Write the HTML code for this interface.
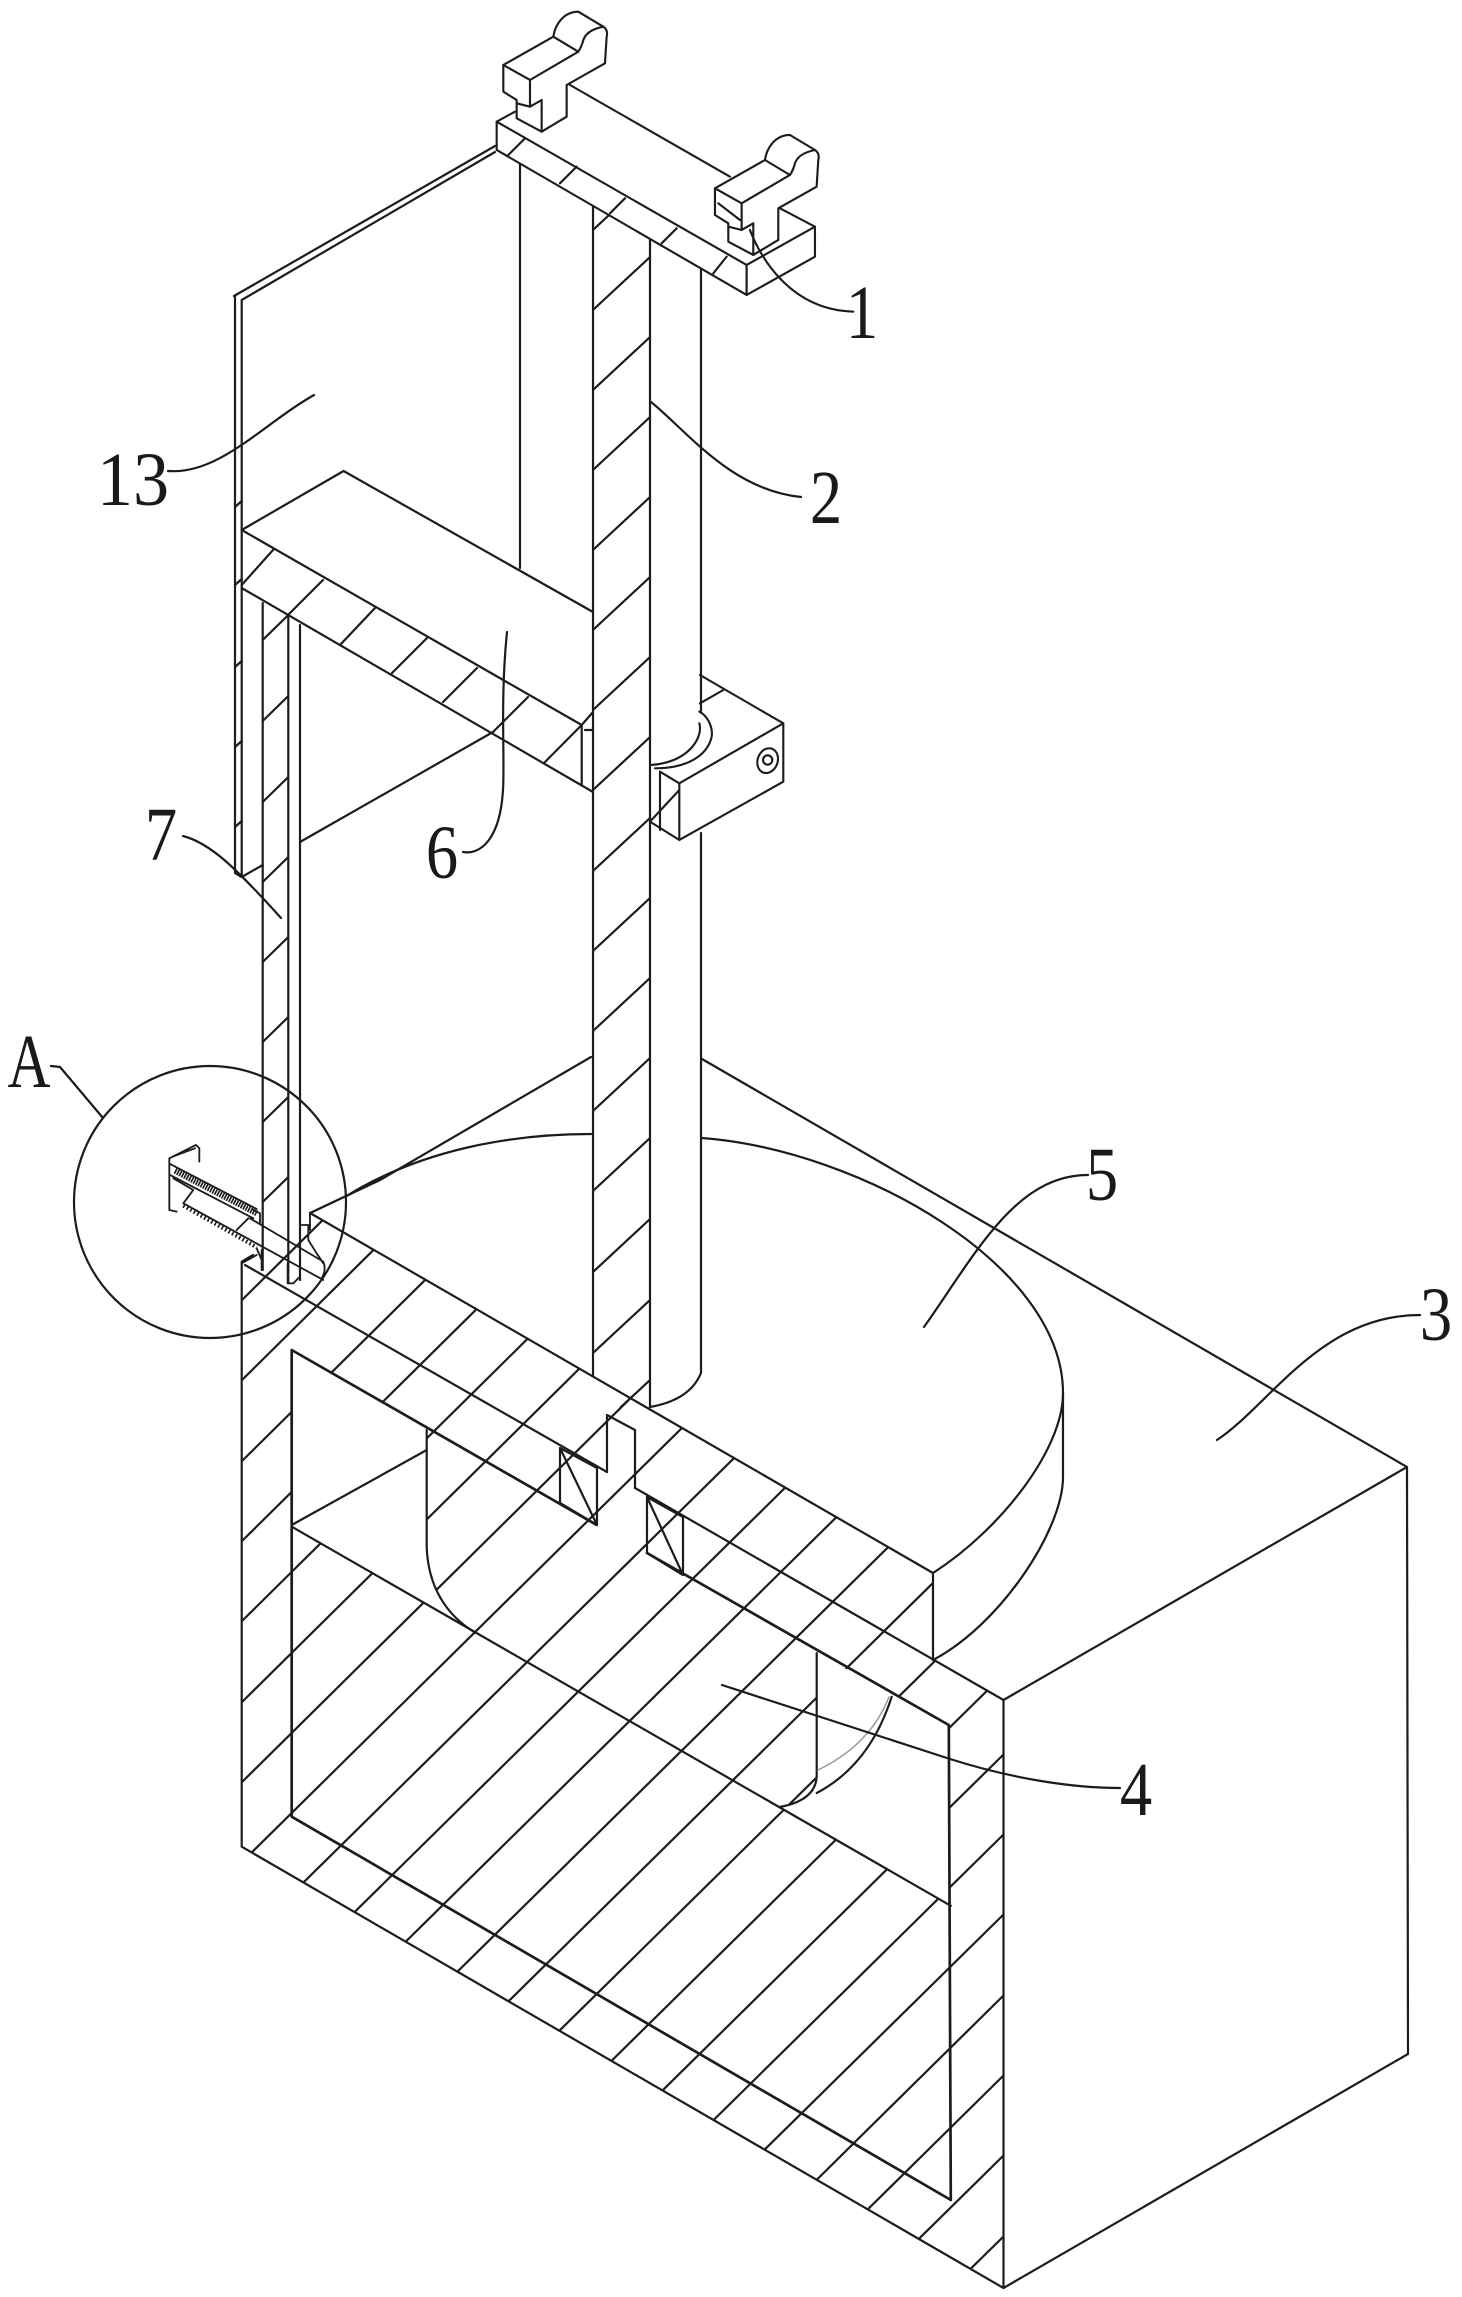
<!DOCTYPE html>
<html>
<head>
<meta charset="utf-8">
<style>
html,body{margin:0;padding:0;background:#fff;overflow:hidden;width:1462px;height:2297px;}
svg{display:block;}
text{font-family:"Liberation Serif","Noto Serif CJK SC",serif;fill:#1a1a1a;stroke:none;}
</style>
</head>
<body>
<svg xmlns="http://www.w3.org/2000/svg" width="1462" height="2297" viewBox="0 0 1462 2297">
<rect width="1462" height="2297" fill="#fff"/>
<defs>
<clipPath id="big"><path clip-rule="evenodd" d="M241.7,1261.7 L253,1255 L310,1213 L933,1573 L933,1660 L1003.5,1700 L1003.5,2288 L241.7,1846.7Z M291.7,1350 L426.7,1427 L426.7,1547 C428,1585 445,1615 476,1633 L291.7,1526.7Z M816.7,1653 L948.8,1725 L950.8,1905.8 L780,1807 Q816.7,1800 816.7,1775Z"/></clipPath>
<clipPath id="post"><rect x="593" y="200" width="57" height="1207"/></clipPath>
</defs>

<g fill="none" stroke="#1c1c1c" stroke-width="2.2" stroke-linejoin="round" stroke-linecap="round">
  <!-- box -->
  <path d="M702,1059 L1407,1467 L1408,2054 L1003.5,2288 M1003.5,1700 L1407,1467"/>
  <path d="M591,1057 L380,1180 L310,1213"/>
  <!-- disc 5 -->
  <path d="M345,1197 C420,1150 510,1134 591,1134 M702,1138 C860,1150 1063,1265 1063,1393 C1063,1450 1000,1530 933,1573"/>
  <path d="M1063,1393 L1063,1477 C1063,1530 1000,1625 933,1660"/>
  <!-- big hatch -->
  <g clip-path="url(#big)">
    <path d="M242,1300 L343,1200 M242,1380 L424,1200 M242,1461 L506,1200 M242,1541 L587,1200 M242,1621 L668,1200 M242,1702 L750,1200 M242,1782 L831,1200 M242,1862 L913,1200 M242,1943 L1004,1192 M242,2023 L1004,1272 M242,2103 L1004,1352 M242,2184 L1004,1433 M242,2264 L1004,1513 M296,2290 L1004,1593 M379,2290 L1004,1674 M460,2290 L1004,1754 M541,2290 L1004,1834 M622,2290 L1004,1914 M705,2290 L1004,1995 M786,2290 L1004,2075 M867,2290 L1004,2155 M949,2290 L1004,2236"/>
  </g>
  <!-- section outlines -->
  <path d="M253,1255 L241.7,1261.7 L241.7,1846.7 L1003.5,2288 L1003.5,1700 L635,1488 M607,1472 L245,1265"/>
  <path d="M310,1213 L933,1573 L933,1660"/>
  <path d="M607,1472 L607,1415 L635,1430 L635,1488"/>
  <path stroke-width="2.7" d="M596.7,1525 L291.7,1350 L291.7,1816.7 L950.8,2200 L948.8,1725 L647,1553"/>
  <path d="M291.7,1526.7 L950.8,1905.8 M291.7,1525 L426.7,1450"/>
  <!-- rotor 4 -->
  <path d="M426.7,1430 L426.7,1547 C428,1585 445,1615 476,1633"/>
  <path d="M816.7,1653 L816.7,1775 Q816.7,1800 780,1807"/>
  <path d="M816.7,1793 Q870,1765 891.7,1696.7"/>
  <path d="M818,1770 Q870,1745 889,1697" stroke="#999" stroke-width="1.5"/>
  <!-- post and shaft -->
  <path d="M520,163 L520,568"/>
  <path d="M593,205 L593,1376"/>
  <path d="M650,235 L650,1407"/>
  <path d="M701,270 L701,711 M701,833 L701,1373 Q690,1400 650,1407"/>
  <g clip-path="url(#post)">
    <path d="M593,150 L650,97 M593,230 L650,177 M593,310 L650,257 M593,390 L650,337 M593,470 L650,417 M593,550 L650,497 M593,630 L650,577 M593,710 L650,657 M593,790 L650,737 M593,871 L650,818 M593,951 L650,898 M593,1031 L650,978 M593,1111 L650,1058 M593,1191 L650,1138 M593,1272 L650,1219 M593,1353 L650,1300 M593,1433 L650,1380"/>
  </g>
  <!-- wall 13 -->
  <path d="M234,296 L495,146 M241.7,300 L495,152 M235,296 L235,873 L241.7,877 M241.7,300 L241.7,877 L262.7,865"/>
  <path d="M235,507 L241.7,501 M235,585 L241.7,579 M235,667 L241.7,661 M235,747 L241.7,741 M235,827 L241.7,821"/>
  <!-- platform 6 -->
  <path d="M241.7,530 L343.6,471 L593,612 M241.7,530 L581.7,725 M241.7,588 L593,792"/>
  <path d="M581.7,725 L581.7,785 M581.7,725 L593,712 M585,730 L593,730"/>
  <path d="M300,842 L493,732"/>
  <path d="M241.7,585 L273,550 M288,615 L323,580 M340,645 L375,608 M392,673 L427,638 M443,702 L477,668 M493,732 L528,697 M545,762 L581.7,725"/>
  <!-- left column -->
  <path d="M262.7,603 L262.7,1270 M288.3,615 L288.3,1283 M300,625 L300,1280"/>
  <path d="M262.7,640 L288.3,615 M262.7,721 L288.3,696 M262.7,802 L288.3,777 M262.7,882 L288.3,857 M262.7,962 L288.3,937 M262.7,1042 L288.3,1017 M262.7,1122 L288.3,1097 M262.7,1202 L288.3,1177"/>
  <!-- leaders -->
  <path d="M651,402 C687,431 731,490 801,497"/>
  <path d="M314,395 C263,424 219,475 168,471"/>
  <path d="M507,632 C500,700 505,760 503,790 C500,840 480,855 463,852"/>
  <path d="M183,836 C210,843 235,867 281,918"/>
  <path d="M51,1066 L60,1067 L103,1118"/>
  <path d="M924,1327 C975,1255 1015,1175 1088,1175"/>
  <path d="M1217,1440 C1270,1405 1320,1315 1420,1315"/>
  <path d="M722,1685 L950,1759 C1010,1778 1070,1788 1120,1788"/>
  <circle cx="210" cy="1202" r="136"/>

  <!-- X boxes -->
  <path d="M560,1448 L597,1468 L597,1525 L560,1503Z M560,1448 L597,1525"/>
  <path d="M647,1497 L683,1517 L683,1575 L647,1553Z M647,1497 L683,1575"/>

  <!-- top plate & clamps -->
  <g transform="translate(440,0) scale(.3333)" stroke-width="6.4">
    <path fill="#fff" d="M170,365 L225,335 L1020,625 L1125,680 L920,795Z" stroke="none"/>
    <path fill="#fff" d="M170,365 L920,795 L920,885 L170,450Z"/>
    <path fill="#fff" d="M920,795 L1125,680 L1125,770 L920,885Z"/>
    <path d="M170,365 L225,335 M390,255 L870,530 M1020,625 L1125,680"/>
    <path d="M205,465 L255,415 M360,550 L410,500 M510,640 L555,595 M665,730 L710,685 M820,820 L860,770"/>
    <path fill="#fff" d="M190,195 L340,110 C345,75 370,35 415,35 L490,80 Q505,90 500,110 L495,190 L380,255 L380,350 L305,395 L230,355 L230,300 L190,275Z"/>
    <path d="M190,195 L270,240 L415,155 L340,110 M270,240 L270,320 L305,300 L305,395 M415,155 Q425,140 430,120 Q440,90 490,80 M230,310 L270,320"/>
    <g transform="translate(635,370)">
      <path fill="#fff" d="M190,195 L340,110 C345,75 370,35 415,35 L490,80 Q505,90 500,110 L495,190 L380,255 L380,350 L305,395 L230,355 L230,300 L190,275Z"/>
      <path d="M190,195 L270,240 L415,155 L340,110 M270,240 L270,320 L305,300 L305,395 M415,155 Q425,140 430,120 Q440,90 490,80 M230,310 L270,320 M200,240 L265,290"/>
    </g>
    <path d="M930,690 C960,770 1050,930 1240,935"/>
  </g>

  <!-- shaft clamp -->
  <g transform="translate(540,640) scale(.3333)" stroke-width="6.4">
    <path d="M480,105 L730,250 L730,425 L418,600 L418,430 L730,250 M418,430 L360,395 L360,570 M418,600 L330,545 M330,545 L418,450 M550,150 L480,190"/>
    <path d="M478,215 C500,225 520,260 515,290 C505,340 450,385 345,385" stroke-dasharray="10 3"/>
    <path d="M478,250 C490,290 450,365 335,375"/>
    <ellipse cx="683" cy="362" rx="30" ry="38" transform="rotate(20 683 362)" stroke-dasharray="8 3"/>
    <circle cx="683" cy="360" r="14"/>
  </g>

  <!-- screw detail A -->
  <g transform="translate(60,1040) scale(.3333)" stroke-width="5.5">
    <path d="M328,355 L408,315 L418,325 L418,365 M328,355 L328,510 L350,515 M338,350 L405,325"/>
    <path d="M330,372 L590,507 M330,405 L580,535"/>
    <path d="M345,392 L590,520" stroke-width="18" stroke-dasharray="5 3" stroke-linecap="butt"/>
    <path d="M580,510 L600,520 L600,550"/>
    <path d="M370,497 L590,622" stroke-width="12" stroke-dasharray="5 7" stroke-linecap="butt"/>
    <path d="M340,415 L400,450 L370,490 L790,720 M570,535 L790,665 Q800,690 785,715 M565,535 L530,570"/>
    <path d="M590,625 L605,660 L605,630 M545,670 L590,645"/>
    <path d="M750,520 L750,570 M725,555 L745,555 L745,600 L770,640 L790,670 M605,640 L605,690 M683,670 L683,730 L700,730 L720,710 L720,690"/>
    <path d="M750,520 L960,420"/>
  </g>
</g>

<!-- labels -->
<g text-anchor="middle" font-size="76">
  <text transform="translate(862,338) scale(.85,1)">1</text>
  <text transform="translate(826,523) scale(.85,1)">2</text>
  <text transform="translate(133,505) scale(.95,1)">13</text>
  <text transform="translate(442,878) scale(.85,1)">6</text>
  <text transform="translate(161,860) scale(.85,1)">7</text>
  <text transform="translate(29,1087) scale(.78,1)">A</text>
  <text transform="translate(1102,1200) scale(.85,1)">5</text>
  <text transform="translate(1436,1340) scale(.85,1)">3</text>
  <text transform="translate(1136,1815) scale(.85,1)">4</text>
</g>
</svg>
</body>
</html>
